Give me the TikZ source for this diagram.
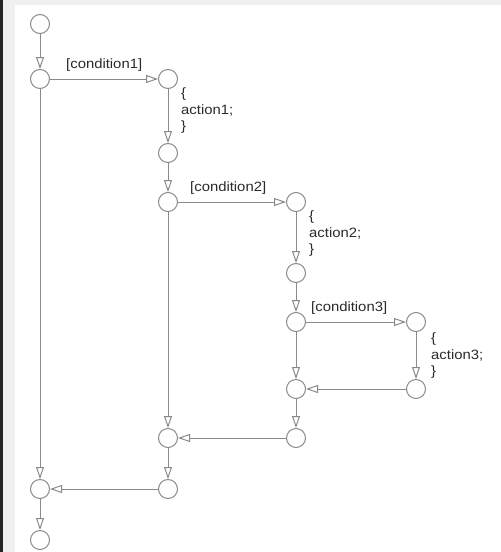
\documentclass[tikz,border=0pt]{standalone}
\usepackage{fontspec}
\setmainfont[FakeStretch=1.1]{Liberation Sans}
\usetikzlibrary{arrows.meta}
\definecolor{linegray}{HTML}{8A8A8A}
\definecolor{textgray}{HTML}{2A2A2A}
\definecolor{bordergray}{HTML}{F0F0F0}
\tikzset{
  st/.style={circle, draw=linegray, line width=1pt, fill=white, minimum size=19pt, inner sep=0pt},
  flow/.style={draw=linegray, line width=1pt, -{Triangle[open, length=12pt, width=8pt, line width=1pt]}},
  lbl/.style={text=textgray, font=\fontsize{13.5}{16.5}\selectfont, inner sep=0pt},
  act/.style={lbl, align=left, anchor=north west}
}
\begin{document}
\begin{tikzpicture}[x=1pt, y=-1pt]
\useasboundingbox (0,0) rectangle (501,552);
\fill[bordergray] (0,0) rectangle (501,552);
\fill[white] (15,5) rectangle (501,552);
\fill[black!85] (0,0) rectangle (3,552);

\node[st] (s0) at (40,24) {};
\node[st] (s1) at (40,79) {};
\node[st] (a1) at (168,79) {};
\node[st] (b1) at (168,153) {};
\node[st] (s2) at (168,202) {};
\node[st] (a2) at (296,202) {};
\node[st] (b2) at (296,273) {};
\node[st] (s3) at (296,322) {};
\node[st] (a3) at (416,322) {};
\node[st] (b3) at (416,389) {};
\node[st] (m3) at (296,389) {};
\node[st] (e2) at (296,438) {};
\node[st] (m2) at (168,438) {};
\node[st] (e1) at (168,489) {};
\node[st] (m1) at (40,489) {};
\node[st] (s9) at (40,540) {};

\draw[flow] (s0) -- (s1);
\draw[flow] (s1) -- (a1);
\draw[flow] (a1) -- (b1);
\draw[flow] (b1) -- (s2);
\draw[flow] (s2) -- (a2);
\draw[flow] (a2) -- (b2);
\draw[flow] (b2) -- (s3);
\draw[flow] (s3) -- (a3);
\draw[flow] (a3) -- (b3);
\draw[flow] (b3) -- (m3);
\draw[flow] (s3) -- (m3);
\draw[flow] (m3) -- (e2);
\draw[flow] (e2) -- (m2);
\draw[flow] (s2) -- (m2);
\draw[flow] (m2) -- (e1);
\draw[flow] (e1) -- (m1);
\draw[flow] (s1) -- (m1);
\draw[flow] (m1) -- (s9);

\node[lbl, anchor=base west] (c1) at (66,68) {[condition1]};
\node[lbl, anchor=base west] (c2) at (190,191) {[condition2]};
\node[lbl, anchor=base west] (c3) at (311,311) {[condition3]};

\node[act] (t1) at (181,88) {\{\\action1;\\\}};
\node[act] (t2) at (309,211) {\{\\action2;\\\}};
\node[act] (t3) at (431,333) {\{\\action3;\\\}};
\end{tikzpicture}
\end{document}
